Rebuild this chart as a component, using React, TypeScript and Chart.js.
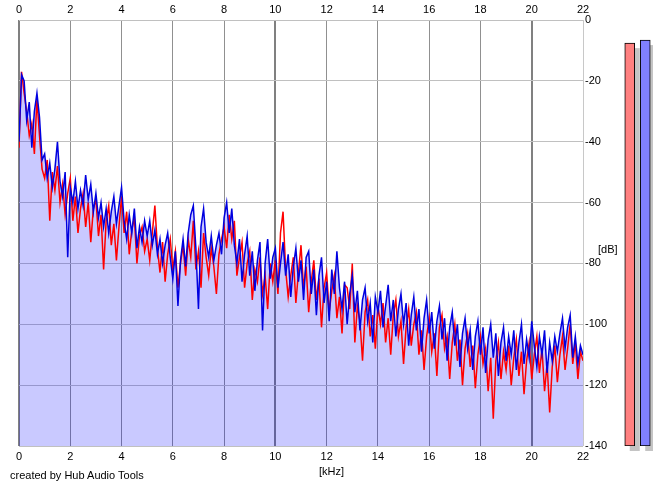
import React, { useEffect, useRef } from "react";
import { Chart, registerables } from "chart.js";

Chart.register(...registerables);

// FFT bin spacing of the spectrum (kHz)
const FREQ_STEP_KHZ = 0.1;

// Right channel (blue), dB, one value per bin from 0 to 22 kHz
const blueDb = [
  -40, -18, -20, -33, -27, -42, -30, -24, -32, -46,
  -44, -52, -47, -55, -49, -40, -53, -58, -50, -78,
  -55, -60, -53, -62, -56, -61, -51, -59, -54, -63,
  -57, -65, -60, -68, -62, -70, -63, -58, -67, -61,
  -55, -66, -72, -64, -70, -62, -75, -68, -73, -66,
  -71, -66, -74, -69, -77, -72, -80, -74, -70, -78,
  -85, -76, -94, -79, -72, -81, -70, -64, -61, -75,
  -95, -68, -62, -73, -78, -71, -79, -74, -70, -77,
  -65, -60, -70, -62, -74, -80, -72, -86, -77, -71,
  -84, -76, -89, -79, -73, -102, -80, -72, -85, -78,
  -75, -88, -80, -73, -84, -77, -91, -81, -75, -86,
  -79, -92, -78, -76, -90, -82, -97, -84, -78, -93,
  -86, -99, -82, -90, -76, -88, -95, -86, -100, -90,
  -84, -96, -89, -102, -92, -88, -99, -93, -106, -91,
  -96, -89, -101, -94, -87, -99, -92, -104, -95, -90,
  -100, -93, -107, -97, -91, -102, -95, -109, -98, -92,
  -103, -96, -108, -99, -94, -105, -98, -112, -101, -96,
  -107, -100, -114, -103, -98, -108, -102, -115, -104, -99,
  -110, -101, -116, -105, -100, -111, -103, -117, -106, -101,
  -112, -104, -110, -102, -115, -106, -100, -113, -105, -111,
  -99, -107, -114, -104, -110, -102, -116, -106, -112, -104,
  -109, -103, -98, -108, -101, -97, -111, -104, -113, -107,
  -110,
];

// Left channel (red), dB
const redDb = [
  -42, -17, -24, -30, -38, -34, -44, -26, -38, -49,
  -52, -46, -66, -50, -56, -48, -60, -54, -64, -57,
  -52, -66, -58, -70, -62, -57, -68, -60, -73, -62,
  -59, -71, -64, -82, -66, -61, -74, -67, -79, -68,
  -58, -70, -63, -77, -69, -65, -80, -71, -68, -76,
  -72, -79, -70, -61, -75, -83, -73, -86, -77, -72,
  -82, -76, -88, -80, -74, -84, -72, -78, -66, -82,
  -76, -88, -70, -78, -84, -75, -81, -90, -77, -72,
  -68, -75, -64, -72, -66, -84, -78, -73, -88, -80,
  -76, -92, -82, -86, -78, -90, -84, -95, -80, -86,
  -79, -90, -70, -63, -82, -91, -84, -78, -93, -83,
  -74, -88, -81, -96, -86, -79, -92, -85, -101, -88,
  -83, -96, -89, -84, -98, -91, -103, -87, -88, -95,
  -80, -106, -94, -99, -112, -96, -92, -104, -97, -108,
  -94, -100, -93, -106, -98, -110, -97, -92, -104, -99,
  -113, -101, -95, -107, -100, -96, -110, -102, -115, -104,
  -98, -109, -103, -117, -101, -97, -108, -104, -118, -106,
  -100, -112, -105, -120, -108, -103, -114, -107, -121, -110,
  -104, -113, -108, -122, -111, -131, -112, -106, -118, -109,
  -115, -107, -120, -111, -105, -117, -109, -123, -112, -106,
  -118, -110, -104, -116, -108, -122, -113, -129, -114, -107,
  -119, -110, -104, -115, -108, -100, -113, -106, -118, -109,
  -112,
];

// Level meters (peak dB per channel)
const meterChannels = ["L", "R"];
const meterDb = [-7.6, -6.6];
const meterColors = ["#ff8080", "#8080ff"];

const X_MIN = 0;
const X_MAX = 22;
const X_STEP = 2;
const Y_MIN = -140;
const Y_MAX = 0;
const Y_STEP = 20;

const FONT = "'Liberation Sans', Arial, sans-serif";

const toPoints = (arr: number[]) =>
  arr.map((y, i) => ({ x: Math.round(i * FREQ_STEP_KHZ * 10) / 10, y }));

export default function App() {
  const mainRef = useRef<HTMLCanvasElement | null>(null);
  const meterRef = useRef<HTMLCanvasElement | null>(null);

  useEffect(() => {
    if (!mainRef.current || !meterRef.current) return;

    const tickFont = { family: FONT, size: 11 };

    const main = new Chart(mainRef.current, {
      type: "line",
      data: {
        datasets: [
          {
            label: "R",
            data: toPoints(blueDb),
            borderColor: "#0000e0",
            borderWidth: 1.5,
            pointRadius: 0,
            tension: 0,
            fill: "start",
            backgroundColor: "rgba(0,0,255,0.21)",
            order: 0,
          },
          {
            label: "L",
            data: toPoints(redDb),
            borderColor: "#ff0000",
            borderWidth: 1.5,
            pointRadius: 0,
            tension: 0,
            fill: false,
            order: 1,
          },
        ],
      },
      options: {
        responsive: false,
        animation: false,
        devicePixelRatio: 1,
        layout: { padding: { left: 19, right: 0, top: 0, bottom: 0 } },
        plugins: {
          legend: { display: false },
          tooltip: { enabled: false },
          filler: { drawTime: "beforeDatasetsDraw" },
        },
        scales: {
          x: {
            type: "linear",
            position: "bottom",
            min: X_MIN,
            max: X_MAX,
            ticks: {
              stepSize: X_STEP,
              color: "#000",
              font: tickFont,
              padding: 4,
              maxRotation: 0,
            },
            border: { display: false },
            grid: {
              drawTicks: false,
              color: (ctx: any) => {
                const v = ctx.tick?.value;
                if (v === 0 || v === 10 || v === 20) return "#808080";
                if (v === 22) return "#c8c8c8";
                return "#909090";
              },
              lineWidth: (ctx: any) => {
                const v = ctx.tick?.value;
                return v === 0 || v === 10 || v === 20 ? 2 : 1;
              },
            },
            afterFit: (s: any) => {
              s.height = 41;
            },
          },
          xTop: {
            type: "linear",
            position: "top",
            min: X_MIN,
            max: X_MAX,
            ticks: {
              stepSize: X_STEP,
              color: "#000",
              font: tickFont,
              padding: 3,
              maxRotation: 0,
            },
            border: { display: false },
            grid: { display: false, drawTicks: false },
            afterFit: (s: any) => {
              s.height = 20;
            },
          },
          y: {
            type: "linear",
            position: "right",
            min: Y_MIN,
            max: Y_MAX,
            ticks: {
              stepSize: Y_STEP,
              color: "#000",
              font: tickFont,
              padding: 2,
            },
            border: { display: false },
            grid: { drawTicks: false, color: "#c0c0c0", lineWidth: 1 },
            afterFit: (s: any) => {
              s.width = 82;
            },
          },
        },
      },
    });

    const shadowPlugin = {
      id: "meterShadow",
      beforeDatasetsDraw(chart: any) {
        const ctx = chart.ctx;
        ctx.save();
        ctx.fillStyle = "#c4c4c4";
        chart.getDatasetMeta(0).data.forEach((bar: any) => {
          const { x, y, base, width } = bar.getProps(["x", "y", "base", "width"], true);
          ctx.fillRect(x - width / 2 + 5, y + 5, width, base - y);
        });
        ctx.restore();
      },
    };

    const meter = new Chart(meterRef.current, {
      type: "bar",
      data: {
        labels: meterChannels,
        datasets: [
          {
            data: meterDb.map((v) => [Y_MIN, v]),
            backgroundColor: meterColors,
            borderColor: "#000",
            borderWidth: 1,
            borderSkipped: false,
            barThickness: 10,
          },
        ],
      },
      options: {
        responsive: false,
        animation: false,
        devicePixelRatio: 1,
        layout: { padding: { top: 20, bottom: 41, left: 0, right: 0 } },
        plugins: { legend: { display: false }, tooltip: { enabled: false } },
        scales: {
          x: { display: false },
          y: { display: false, min: Y_MIN, max: Y_MAX },
        },
      },
      plugins: [shadowPlugin],
    });

    return () => {
      main.destroy();
      meter.destroy();
    };
  }, []);

  const textStyle: React.CSSProperties = {
    position: "absolute",
    fontFamily: FONT,
    color: "#000",
    whiteSpace: "nowrap",
    lineHeight: 1,
  };

  return (
    <div
      style={{
        position: "absolute",
        left: 0,
        top: 0,
        width: 665,
        height: 487,
        background: "#fff",
        overflow: "hidden",
      }}
    >
      <canvas
        ref={mainRef}
        width={665}
        height={487}
        style={{ position: "absolute", left: 0, top: 0, width: 665, height: 487 }}
      />
      <canvas
        ref={meterRef}
        width={31}
        height={487}
        style={{ position: "absolute", left: 622, top: 0, width: 31, height: 487 }}
      />
      <div style={{ ...textStyle, left: 319, top: 466, fontSize: 11 }}>[kHz]</div>
      <div style={{ ...textStyle, left: 598, top: 244, fontSize: 11 }}>[dB]</div>
      <div style={{ ...textStyle, left: 10, top: 470, fontSize: 11 }}>
        created by Hub Audio Tools
      </div>
    </div>
  );
}
